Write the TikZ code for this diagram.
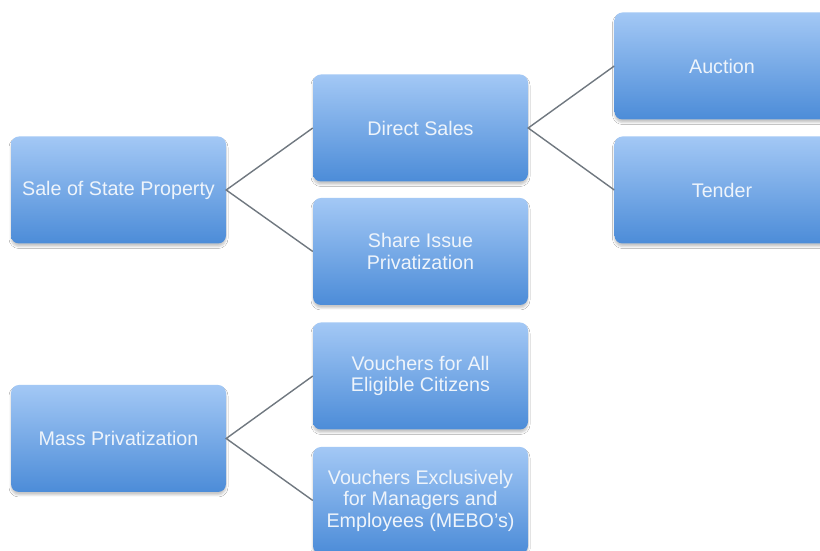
\documentclass[tikz,border=0pt]{standalone}
\usepackage{fontspec}
\setmainfont{Liberation Sans}
\usetikzlibrary{shadows.blur}

\definecolor{boxtop}{RGB}{163,200,245}
\definecolor{boxbot}{RGB}{76,140,216}
\definecolor{boxtext}{RGB}{238,244,251}
\definecolor{linkgray}{RGB}{112,120,128}

\tikzset{
  treebox/.style={
    rounded corners=8pt,
    minimum width=215pt, minimum height=107pt,
    inner sep=0pt, align=center,
    top color=boxtop, bottom color=boxbot,
    text=boxtext,
    font=\fontsize{19.7}{21.5}\selectfont,
    blur shadow={shadow xshift=0pt, shadow yshift=-3pt,
                 shadow blur radius=2pt, shadow opacity=22}
  },
  link/.style={draw=linkgray, line width=1.4pt}
}

\begin{document}
\begin{tikzpicture}[x=1pt, y=1pt]
  \useasboundingbox (0,0) rectangle (820,551);
  \clip (0,0) rectangle (820,551);
  \fill[white] (0,0) rectangle (820,551);

  % first tree: sale of state property
  \node[treebox] (sale)    at (118.5,361)  {Sale of State Property};
  \node[treebox] (direct)  at (420.5,423)  {Direct Sales};
  \node[treebox] (share)   at (420.5,299.5) {Share Issue\\Privatization};
  \node[treebox] (auction) at (722,485)    {Auction};
  \node[treebox] (tender)  at (722,361)    {Tender};

  % second tree: mass privatization
  \node[treebox] (mass)  at (118.5,112.5) {Mass Privatization};
  \node[treebox] (vall)  at (420.5,175)   {Vouchers for All\\Eligible Citizens};
  \node[treebox] (vexcl) at (420.5,50.5)  {Vouchers Exclusively\\for Managers and\\Employees (MEBO's)};

  % connectors
  \draw[link] (direct.west) -- (sale.east) -- (share.west);
  \draw[link] (auction.west) -- (direct.east) -- (tender.west);
  \draw[link] (vall.west) -- (mass.east) -- (vexcl.west);
\end{tikzpicture}
\end{document}
